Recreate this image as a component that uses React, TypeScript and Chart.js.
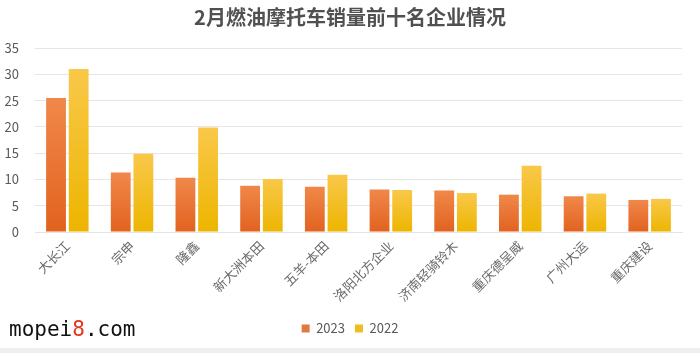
import React, { useEffect, useRef } from "react";
import { Chart, registerables } from "chart.js";

Chart.register(...registerables);

const title = "2月燃油摩托车销量前十名企业情况";
const categories = ["大长江", "宗申", "隆鑫", "新大洲本田", "五羊-本田", "洛阳北方企业", "济南轻骑铃木", "重庆德呈威", "广州大运", "重庆建设"];
const seriesNames = ["2023", "2022"];
const sales2023 = [25.5, 11.3, 10.3, 8.8, 8.6, 8.1, 7.9, 7.1, 6.8, 6.1];
const sales2022 = [31.0, 14.9, 19.9, 10.1, 10.9, 8.0, 7.4, 12.6, 7.3, 6.3];
const yMax = 35;
const yStep = 5;

const FONT = "'Noto Sans CJK SC', 'Noto Sans', sans-serif";
const TEXT = "#595959";

function barGradient(top: string, bottom: string) {
  return (ctx: any) => {
    const chart = ctx.chart;
    const area = chart.chartArea;
    if (!area || ctx.type !== "data") return top;
    const y = chart.scales.y;
    const v = ctx.raw as number;
    const yTop = y.getPixelForValue(v);
    const yBot = y.getPixelForValue(0);
    const g = chart.ctx.createLinearGradient(0, yTop, 0, yBot);
    g.addColorStop(0, top);
    g.addColorStop(1, bottom);
    return g;
  };
}

export default function App() {
  const ref = useRef<HTMLCanvasElement | null>(null);

  useEffect(() => {
    document.body.style.margin = "0";
    if (!ref.current) return;
    const legendColors = ["#E07A42", "#F0BE22"];
    const chart = new Chart(ref.current, {
      type: "bar",
      data: {
        labels: categories,
        datasets: [
          {
            label: seriesNames[0],
            data: sales2023,
            backgroundColor: barGradient("#F0884A", "#E2621F"),
            categoryPercentage: 0.7,
            barPercentage: 0.875,
          },
          {
            label: seriesNames[1],
            data: sales2022,
            backgroundColor: barGradient("#F9C84A", "#EDB500"),
            categoryPercentage: 0.7,
            barPercentage: 0.875,
          },
        ],
      },
      options: {
        animation: false,
        responsive: false,
        maintainAspectRatio: false,
        layout: { padding: { left: 0, right: 0, top: 0, bottom: 8 } },
        plugins: {
          title: {
            display: true,
            text: title,
            color: "#505050",
            font: { family: FONT, size: 20, weight: "bold" },
            padding: { top: 5, bottom: 19 },
          },
          legend: {
            position: "bottom",
            labels: {
              color: TEXT,
              font: { family: FONT, size: 13 },
              boxWidth: 8,
              boxHeight: 8,
              padding: 10,
              generateLabels: () =>
                seriesNames.map((n, i) => ({
                  text: n,
                  fillStyle: legendColors[i],
                  strokeStyle: legendColors[i],
                  lineWidth: 0,
                  hidden: false,
                  datasetIndex: i,
                  fontColor: TEXT,
                })),
            },
          },
          tooltip: { enabled: false },
        },
        scales: {
          x: {
            grid: { display: false, drawTicks: false },
            border: { display: true, color: "#E3E3E3" },
            ticks: {
              color: "#6A6A6A",
              font: { family: FONT, size: 13 },
              minRotation: 45,
              maxRotation: 45,
              padding: 6,
              autoSkip: false,
            },
            afterFit: (s: any) => {
              s.height = 80;
            },
          },
          y: {
            min: 0,
            max: yMax,
            grid: { color: "#E6E6E6", drawTicks: false },
            border: { display: false },
            ticks: {
              stepSize: yStep,
              color: TEXT,
              font: { family: FONT, size: 13 },
              padding: 16,
            },
            afterFit: (s: any) => {
              s.width = 35;
            },
          },
          yRight: {
            position: "right",
            display: true,
            grid: { display: false, drawTicks: false },
            border: { display: false },
            ticks: { display: false },
            afterFit: (s: any) => {
              s.width = 18;
            },
          },
        },
      },
    });
    return () => chart.destroy();
  }, []);

  return (
    <div style={{ position: "relative", width: 700, height: 353, background: "#fff", overflow: "hidden" }}>
      <canvas ref={ref} width={700} height={353} style={{ position: "absolute", left: 0, top: 0 }} />
      <div
        style={{
          position: "absolute",
          left: 9,
          top: 316,
          fontFamily: "'DejaVu Sans Mono', monospace",
          fontSize: 21,
          color: "#111",
          lineHeight: "26px",
        }}
      >
        mopei<span style={{ color: "#E8331C" }}>8</span>.com
      </div>
      <div style={{ position: "absolute", left: 0, top: 348, width: 700, height: 5, background: "#EEEEEE" }} />
    </div>
  );
}
